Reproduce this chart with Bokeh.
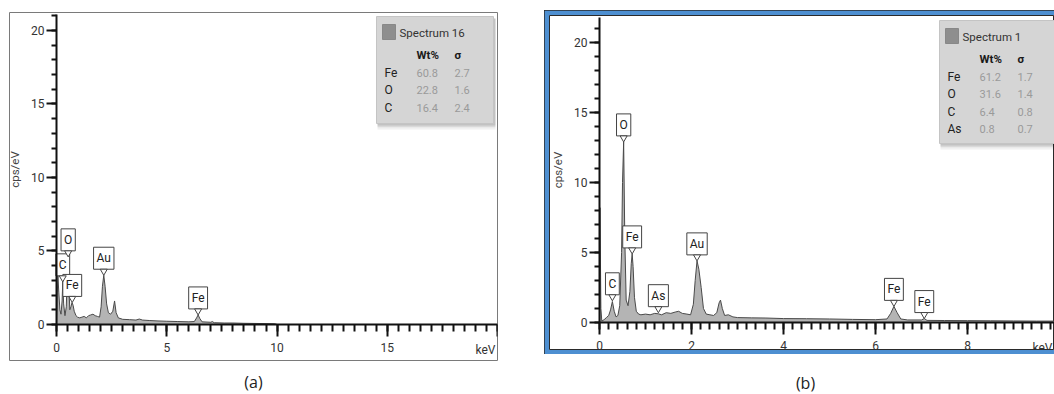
import numpy as np
from bokeh.plotting import figure
from bokeh.models import SingleIntervalTicker, Label, Spacer
from bokeh.layouts import row, column
from bokeh.core.properties import value
from bokeh.embed import file_html
from bokeh.resources import INLINE

# ---------------- data: panel (a) ----------------
a_kev = [0.00, 0.03, 0.06, 0.10, 0.15, 0.20, 0.25, 0.28, 0.32, 0.38, 0.44, 0.48, 0.52,
         0.56, 0.60, 0.65, 0.70, 0.75, 0.80, 0.88, 0.95, 1.05, 1.15, 1.25, 1.35, 1.45,
         1.55, 1.65, 1.75, 1.85, 1.95, 2.02, 2.08, 2.14, 2.20, 2.27, 2.35, 2.45, 2.55,
         2.63, 2.70, 2.80, 3.00, 3.30, 3.60, 3.75, 3.90, 4.20, 4.60, 5.00, 5.50, 6.00,
         6.25, 6.35, 6.42, 6.50, 6.60, 7.00, 7.06, 7.15, 7.60, 8.00, 8.50, 9.00, 9.50,
         9.90, 10.0]
a_cps = [0.0, 2.0, 3.3, 2.2, 1.0, 0.7, 1.6, 2.9, 1.4, 0.6, 1.2, 3.2, 4.6,
         2.5, 1.0, 1.2, 1.5, 1.3, 0.9, 0.6, 0.5, 0.45, 0.5, 0.55, 0.45, 0.6,
         0.65, 0.7, 0.6, 0.55, 0.5, 1.2, 2.6, 3.35, 2.6, 1.4, 0.8, 0.7, 0.9,
         1.6, 0.8, 0.45, 0.35, 0.33, 0.3, 0.37, 0.3, 0.27, 0.24, 0.22, 0.2, 0.18,
         0.2, 0.45, 0.65, 0.4, 0.18, 0.15, 0.2, 0.12, 0.1, 0.1, 0.08, 0.07, 0.06,
         0.05, 0.0]
a_peak_names = ["C", "Fe", "O", "Au", "Fe"]
a_peak_kev = [0.28, 0.71, 0.525, 2.14, 6.42]
a_peak_cps = [2.9, 1.5, 4.6, 3.35, 0.65]
a_title = "Spectrum 16"
a_elements = ["Fe", "O", "C"]
a_wt = ["60.8", "22.8", "16.4"]
a_sigma = ["2.7", "1.6", "2.4"]

# ---------------- data: panel (b) ----------------
b_kev = [0.00, 0.01, 0.03, 0.05, 0.10, 0.15, 0.20, 0.24, 0.28, 0.32, 0.36, 0.40, 0.44,
         0.48, 0.50, 0.525, 0.55, 0.58, 0.62, 0.66, 0.69, 0.71, 0.73, 0.76, 0.80, 0.85,
         0.90, 1.00, 1.10, 1.20, 1.28, 1.35, 1.45, 1.55, 1.65, 1.72, 1.80, 1.90, 1.98,
         2.04, 2.08, 2.12, 2.16, 2.21, 2.26, 2.32, 2.40, 2.48, 2.55, 2.60, 2.63, 2.67,
         2.72, 2.80, 2.90, 3.00, 3.30, 3.60, 4.00, 4.50, 5.00, 5.50, 6.00, 6.25, 6.33,
         6.40, 6.47, 6.55, 6.70, 7.00, 7.06, 7.12, 7.50, 8.00, 8.50, 9.00, 9.50, 10.0]
b_cps = [0.0, 8.2, 1.0, 0.1, 0.2, 0.35, 0.5, 0.9, 1.5, 0.8, 0.4, 0.5, 1.2,
         5.0, 10.0, 12.9, 6.0, 1.6, 1.2, 2.2, 4.2, 4.9, 4.0, 1.8, 0.8, 0.6,
         0.55, 0.6, 0.55, 0.65, 0.62, 0.55, 0.7, 0.65, 0.75, 0.8, 0.65, 0.6, 0.55,
         1.3, 3.0, 4.4, 3.8, 2.5, 1.0, 0.6, 0.55, 0.5, 0.7, 1.4, 1.6, 1.0,
         0.5, 0.55, 0.4, 0.35, 0.33, 0.32, 0.28, 0.27, 0.25, 0.22, 0.2, 0.25, 0.65,
         1.15, 0.7, 0.25, 0.18, 0.18, 0.28, 0.15, 0.14, 0.13, 0.12, 0.11, 0.1, 0.1]
b_peak_names = ["C", "O", "Fe", "As", "Au", "Fe", "Fe"]
b_peak_kev = [0.28, 0.525, 0.71, 1.28, 2.12, 6.40, 7.06]
b_peak_cps = [1.55, 12.9, 4.9, 0.7, 4.4, 1.15, 0.28]
b_title = "Spectrum 1"
b_elements = ["Fe", "O", "C", "As"]
b_wt = ["61.2", "31.6", "6.4", "0.8"]
b_sigma = ["1.7", "1.4", "0.8", "0.7"]

captions = ["(a)", "(b)"]

FONT = "Roboto"
SPEC_FILL = "#b4b4b4"
SPEC_LINE = "#4a4a4a"


def make_panel(kev, cps, names, pk, pc, title, elems, wt, sig, *,
               fw, fh, xr, yr, frame_left, frame_top, borders, border_fill,
               outline, x_interval, x_bounds, y_bounds, legend_box, kev_end):
    bl, br, bt, bb = borders
    p = figure(frame_width=fw, frame_height=fh, x_range=xr, y_range=yr,
               output_backend="svg", toolbar_location=None,
               min_border_left=bl, min_border_right=br,
               min_border_top=bt, min_border_bottom=bb,
               border_fill_color=border_fill, background_fill_color="white",
               outline_line_color=outline, outline_line_width=1)
    p.grid.visible = False
    ppx = fw / (xr[1] - xr[0])
    ppy = fh / (yr[1] - yr[0])

    def X(px):
        return xr[0] + (px - frame_left) / ppx

    def Y(py):
        return yr[1] - (py - frame_top) / ppy

    # axes crossing at the origin
    xa = p.xaxis[0]
    ya = p.yaxis[0]
    xa.fixed_location = 0
    ya.fixed_location = 0
    for ax in (xa, ya):
        ax.axis_line_width = 2
        ax.axis_line_color = "#111111"
        ax.major_tick_line_width = 2
        ax.major_tick_line_color = "#111111"
        ax.minor_tick_line_width = 2
        ax.minor_tick_line_color = "#111111"
        ax.major_tick_in = 0
        ax.minor_tick_in = 0
        ax.major_label_text_font = FONT
        ax.major_label_text_font_size = "12px"
        ax.major_label_text_color = "#333333"
    xa.ticker = SingleIntervalTicker(interval=x_interval, num_minor_ticks=10)
    ya.ticker = SingleIntervalTicker(interval=5, num_minor_ticks=5)
    xa.bounds = x_bounds
    ya.bounds = y_bounds
    xa.major_tick_out = 12
    xa.minor_tick_out = 7
    ya.major_tick_out = 10
    ya.minor_tick_out = 5
    xa.major_label_standoff = 7
    ya.major_label_standoff = 2
    xa.major_label_overrides = {x_bounds[1]: ""}
    ya.axis_label = "cps/eV"
    ya.axis_label_text_font = FONT
    ya.axis_label_text_font_size = "11.5px"
    ya.axis_label_text_font_style = "normal"
    ya.axis_label_text_color = "#444444"
    ya.axis_label_standoff = 6

    p.add_layout(Label(x=kev_end, y=0, x_offset=-2, y_offset=-19, text="keV",
                       text_align="right", text_baseline="top",
                       text_font=FONT, text_font_size="12px", text_color="#333333"))

    # spectrum
    p.varea(x=kev, y1=0, y2=cps, fill_color=SPEC_FILL)
    p.line(kev, cps, line_color=SPEC_LINE, line_width=1)

    # peak callouts
    p.text(x=pk, y=pc, text=names, anchor="bottom_center", y_offset=-6,
           text_font=value(FONT), text_font_size="12px", text_color="#222222",
           background_fill_color="white", border_line_color="#444444",
           border_line_width=1, padding=(3, 4))
    p.scatter(pk, [c + 4.0 / ppy for c in pc], marker="inverted_triangle", size=7,
              fill_color="white", line_color="#444444", line_width=1)

    # legend table
    l, t, r, b = legend_box
    for k, a in enumerate([0.10, 0.07, 0.05, 0.03]):
        p.quad(left=[X(l + 1)], right=[X(r + 2)], top=[Y(t + 2)], bottom=[Y(b + 2 + k * 1.5)],
               fill_color="#000000", fill_alpha=a, line_color=None)
    p.quad(left=[X(l)], right=[X(r)], top=[Y(t)], bottom=[Y(b)],
           fill_color="#d5d5d5", line_color="#c4c4c4")
    p.rect(x=[X(l + 12.5)], y=[Y(t + 15.5)], width=13, height=15,
           width_units="screen", height_units="screen",
           fill_color="#8e8e8e", line_color="#888888")
    ax0, ay0 = X(l), Y(t)
    p.text(x=[ax0], y=[ay0], text=[title], x_offset=23, y_offset=16,
           text_font=value(FONT), text_font_size="11.5px", text_color="#333333",
           text_baseline="middle", text_align="left")
    p.text(x=[ax0, ax0], y=[ay0, ay0], text=["Wt%", "σ"], x_offset=[40, 78],
           y_offset=[38, 38], text_font=value(FONT), text_font_size="11.5px",
           text_font_style="bold", text_color="#1a1a1a",
           text_baseline="middle", text_align="left")
    n = len(elems)
    rows_y = [56 + 17.5 * i for i in range(n)]
    p.text(x=[ax0] * n, y=[ay0] * n, text=elems, x_offset=8, y_offset=rows_y,
           text_font=value(FONT), text_font_size="12px", text_color="#222222",
           text_baseline="middle", text_align="left")
    p.text(x=[ax0] * n, y=[ay0] * n, text=wt, x_offset=40, y_offset=rows_y,
           text_font=value(FONT), text_font_size="11px", text_color="#9a9a9a",
           text_baseline="middle", text_align="left")
    p.text(x=[ax0] * n, y=[ay0] * n, text=sig, x_offset=78, y_offset=rows_y,
           text_font=value(FONT), text_font_size="11px", text_color="#9a9a9a",
           text_baseline="middle", text_align="left")
    return p


pa = make_panel(a_kev, a_cps, a_peak_names, a_peak_kev, a_peak_cps,
                a_title, a_elements, a_wt, a_sigma,
                fw=488, fh=348, xr=(-2.136, 20.0), yr=(-2.45, 21.22),
                frame_left=9, frame_top=12, borders=(9, 47, 12, 2),
                border_fill="white", outline="#7a7a7a", x_interval=5,
                x_bounds=(0, 20), y_bounds=(0, 21.1),
                legend_box=(376, 16, 493, 123), kev_end=20.0)

pb = make_panel(b_kev, b_cps, b_peak_names, b_peak_kev, b_peak_cps,
                b_title, b_elements, b_wt, b_sigma,
                fw=505, fh=334, xr=(-1.087, 9.891), yr=(-1.93, 21.93),
                frame_left=549, frame_top=15, borders=(5, 0, 5, 5),
                border_fill="#4d8fd1", outline="#2a2a2a", x_interval=2,
                x_bounds=(0, 10), y_bounds=(0, 21.8),
                legend_box=(939, 20, 1075, 143), kev_end=9.891)
pb.styles = {"outline": "1px solid #2a2a2a", "outline-offset": "-1px"}

cap = figure(width=1054, height=30, x_range=(0, 1054), y_range=(0, 30),
             output_backend="svg", toolbar_location=None, min_border=0,
             x_axis_type=None, y_axis_type=None, outline_line_color=None)
cap.grid.visible = False
cap.text(x=[253, 805], y=[11, 10], text=captions, text_align="center",
         text_baseline="middle", text_font=value("Open Sans"),
         text_font_size="16px", text_color="#222222")

layout = column(row(pa, column(Spacer(height=10), pb)), cap)
open("out.html", "w").write(file_html(layout, INLINE))
